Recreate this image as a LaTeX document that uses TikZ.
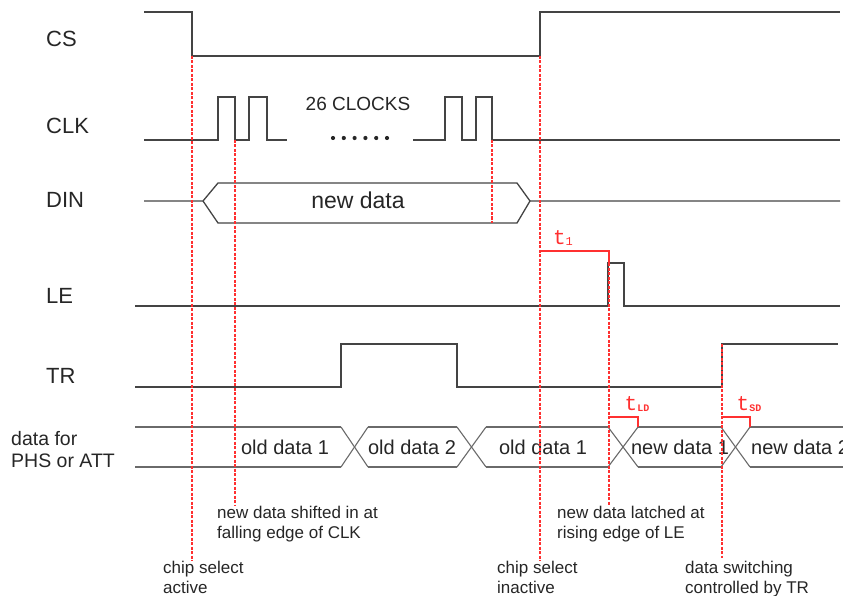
\documentclass[tikz,border=0pt]{standalone}
\usepackage{fontspec}
\setmainfont{Liberation Sans}
\newfontfamily\tfont{Liberation Mono}
\usepackage{tikz}
\usetikzlibrary{calc}
\definecolor{wire}{HTML}{444444}
\definecolor{buswire}{HTML}{6A6A6A}
\definecolor{guide}{HTML}{FF3030}
\definecolor{txt}{HTML}{262626}
\tikzset{
  sig/.style={wire,line width=1.3pt},
  bus/.style={buswire,line width=1.1pt},
  guideline/.style={guide,line width=1.1pt,dash pattern=on 3pt off 1.5pt},
  tbrk/.style={guide,line width=1.1pt},
  sname/.style={txt,anchor=west,inner sep=0pt,font=\fontsize{22}{26}\selectfont},
  blbl/.style={txt,inner sep=0pt,font=\fontsize{20}{24}\selectfont},
  note/.style={txt,anchor=north west,align=left,inner sep=0pt,font=\fontsize{17}{20}\selectfont},
  tlbl/.style={guide,inner sep=0pt,font=\tfont\fontsize{21}{21}\selectfont},
}
\newcommand{\tsub}[1]{\raisebox{-1.5pt}{\fontsize{10}{10}\selectfont\bfseries #1}}

\begin{document}
\begin{tikzpicture}[x=1pt,y=-1pt]
  \useasboundingbox (0,0) rectangle (843,596);
  % ===================== signal names =====================
  \node[sname] (ncs)  at (46,39)  {CS};
  \node[sname] (nclk) at (46,126) {CLK};
  \node[sname] (ndin) at (46,200) {DIN};
  \node[sname] (nle)  at (46,296) {LE};
  \node[sname] (ntr)  at (46,376) {TR};
  \node[note,font=\fontsize{19.5}{22}\selectfont] (ndat) at (11,431) {data for\\PHS or ATT};
  % ===================== waveforms =====================
  % CS
  \draw[sig] (144,12) -| (192,56) -| (540,12) -- (840,12);
  % CLK
  \draw[sig] (144,140) -| (218,97) -| (235,140) -| (249,97) -| (267,140) -- (287,140);
  \draw[sig] (413,140) -| (445,97) -| (462,140) -| (476,97) -| (492,140) -- (840,140);
  \foreach \i in {0,...,5} \fill[txt] (333+\i*10.8,138) circle (2.1pt);
  \node[txt,font=\fontsize{19}{22}\selectfont] (nclocks) at (358,104) {26 CLOCKS};
  % DIN
  \draw[sig] (144,201) -- (203,201) -- (218,183) -- (517,183) -- (530,201) -- (840,201);
  \draw[sig] (203,201) -- (218,223) -- (517,223) -- (530,201);
  \node[txt,font=\fontsize{23}{26}\selectfont] (nnew) at (358,200) {new data};
  % LE
  \draw[sig] (135,306) -| (608,263) -| (624,306) -- (840,306);
  % TR
  \draw[sig] (135,387) -| (341,344) -| (457,387) -| (722,344) -- (838,344);
  % data bus
  \foreach \a/\b in {135/341,368/457,486/608,638/721,750/843} {
    \draw[bus] (\a,427) -- (\b,427);
    \draw[bus] (\a,467) -- (\b,467);
  }
  \foreach \a/\b in {341/368,457/486,608/638,721/750} {
    \draw[bus] (\a,427) -- (\b,467);
    \draw[bus] (\a,467) -- (\b,427);
  }
  \node[blbl] (bold1)  at (285,447) {old data 1};
  \node[blbl] (bold2)  at (412,447) {old data 2};
  \node[blbl] (bold3)  at (543,447) {old data 1};
  \node[blbl] (bnew1)  at (680,447) {new data 1};
  \node[blbl,anchor=west] (bnew2) at (751,447) {new data 2};
  % ===================== guides and timing =====================
  \draw[guideline] (192,56) -- (192,561);
  \draw[guideline] (235,140) -- (235,506);
  \draw[guideline] (492,140) -- (492,223);
  \draw[guideline] (540,56) -- (540,561);
  \draw[guideline] (609,263) -- (609,506);
  \draw[guideline] (722,344) -- (722,558);
  \draw[tbrk] (540,251) -- (609,251) -- (609,263);
  \draw[tbrk] (609,417) -- (638,417) -- (638,427);
  \draw[tbrk] (722,417) -- (750,417) -- (750,427);
  \node[tlbl] (tone) at (563,238) {t\raisebox{-1.5pt}{\fontsize{12}{12}\selectfont 1}};
  \node[tlbl] (tld)  at (637,404) {t\tsub{LD}};
  \node[tlbl] (tsd)  at (749,404) {t\tsub{SD}};
  % ===================== notes =====================
  \node[note] (acs)  at (163,561) {chip select\\active};
  \node[note] (ash)  at (217,506) {new data shifted in at\\falling edge of CLK};
  \node[note] (ics)  at (497,561) {chip select\\inactive};
  \node[note] (alt)  at (557,506) {new data latched at\\rising edge of LE};
  \node[note] (asw)  at (685,561) {data switching\\controlled by TR};
\end{tikzpicture}
\end{document}
